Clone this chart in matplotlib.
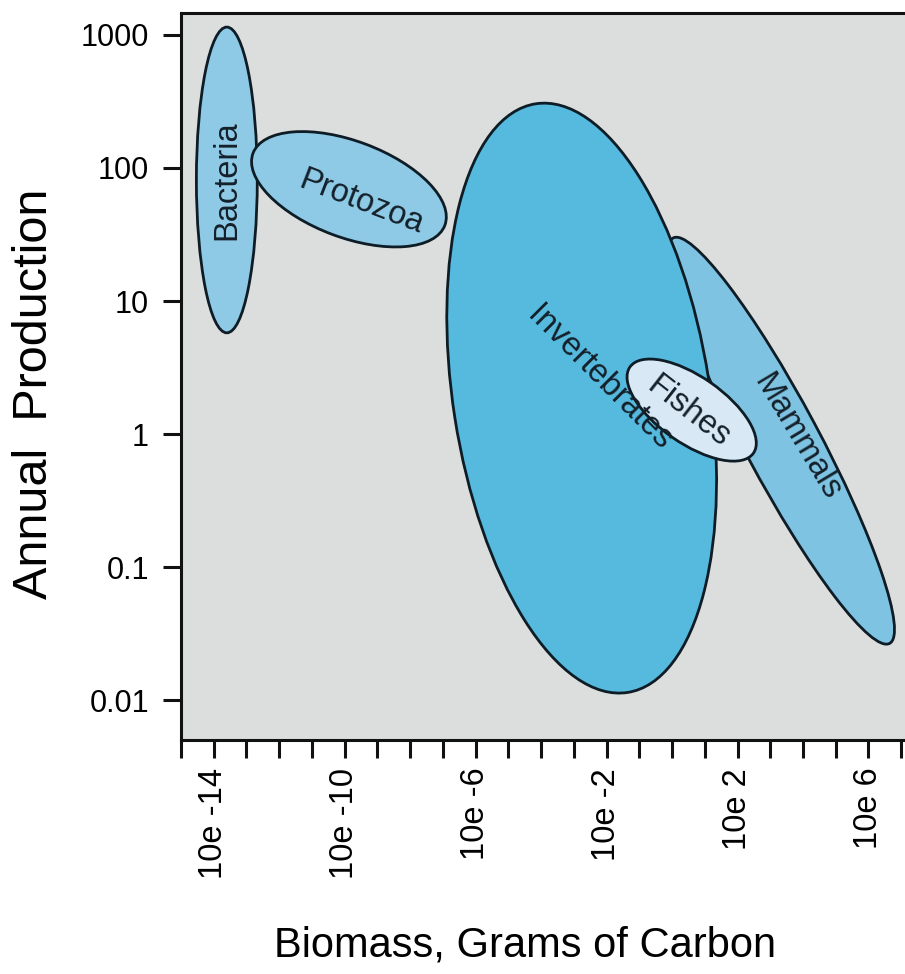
import matplotlib
matplotlib.use('Agg')
import matplotlib.pyplot as plt
from matplotlib.patches import Ellipse
from matplotlib.transforms import Affine2D

plt.rcParams['font.family'] = ['Liberation Sans', 'DejaVu Sans']

# ---- data (log10 units) ----
groups = ['Bacteria', 'Protozoa', 'Mammals', 'Invertebrates', 'Fishes']
center_x = [-13.60, -9.87, 3.34, -2.76, 0.60]      # log10 biomass (g C)
center_y = [1.91, 1.84, -0.05, 0.27, 0.18]         # log10 annual production
semi_major = [4.67, 3.13, 7.02, 9.10, 2.30]        # in biomass-decade units (isotropic)
semi_minor = [0.93, 1.47, 1.14, 3.92, 1.02]
tilt = [90, -20.6, -61.9, 98.9, -34.9]
fill_colors = ['#8ecae6', '#8ecae6', '#7fc3e2', '#56b9de', '#d8e9f5']

label_x = [-13.60, -9.50, 3.81, -2.21, 0.51]
label_y = [1.91, 1.744, -0.023, 0.421, 0.165]
label_rot = [90, -21, -59, -45, -38]

ytick_vals = [-2, -1, 0, 1, 2, 3]
ytick_labels = ['0.01', '0.1', '1', '10', '100', '1000']
xtick_vals = list(range(-15, 8))
xtick_labels = {-14: '10e -14', -10: '10e -10', -6: '10e -6', -2: '10e -2', 2: '10e 2', 6: '10e 6'}

xlim = (-15, 7.3)
ylim = (-2.30, 3.165)

W, H = 905, 974
fig = plt.figure(figsize=(W / 100, H / 100), dpi=100)
left_px, right_px, top_px, bottom_px = 181, 911, 13, 740
ax = fig.add_axes([left_px / W, 1 - bottom_px / H, (right_px - left_px) / W, (bottom_px - top_px) / H])
ax.set_facecolor('#dcdedd')
ax.set_xlim(*xlim)
ax.set_ylim(*ylim)

px_x = (right_px - left_px) / (xlim[1] - xlim[0])
px_y = (bottom_px - top_px) / (ylim[1] - ylim[0])
k = px_y / px_x
iso = Affine2D().scale(1, 1 / k) + ax.transData

for i, g in enumerate(groups):
    e = Ellipse((center_x[i], center_y[i] * k), 2 * semi_major[i], 2 * semi_minor[i],
                angle=tilt[i], transform=iso, facecolor=fill_colors[i],
                edgecolor='#0e1c26', linewidth=2.0, zorder=2 + i)
    ax.add_patch(e)
    ax.text(label_x[i], label_y[i], g, rotation=label_rot[i], rotation_mode='anchor',
            ha='center', va='center', fontsize=23.5, color='#14202a', zorder=10)

ax.set_yticks(ytick_vals)
ax.set_yticklabels(ytick_labels)
ax.set_xticks(xtick_vals)
ax.set_xticklabels([xtick_labels.get(v, '') for v in xtick_vals], rotation=90)
ax.tick_params(axis='both', direction='out', length=13, width=2.2, labelsize=22, color='#111111')
ax.tick_params(axis='x', labelsize=23.5, pad=7)
ax.tick_params(axis='y', pad=10)
for s in ['left', 'bottom', 'top']:
    ax.spines[s].set_linewidth(2.2)
    ax.spines[s].set_color('#111111')
ax.spines['right'].set_visible(False)

fig.text(35 / W, 1 - 394 / H, 'Annual  Production', rotation=90, ha='center', va='center', fontsize=35)
fig.text(525 / W, 1 - 946 / H, 'Biomass, Grams of Carbon', ha='center', va='center', fontsize=30)

fig.savefig('out.png', dpi=100)
